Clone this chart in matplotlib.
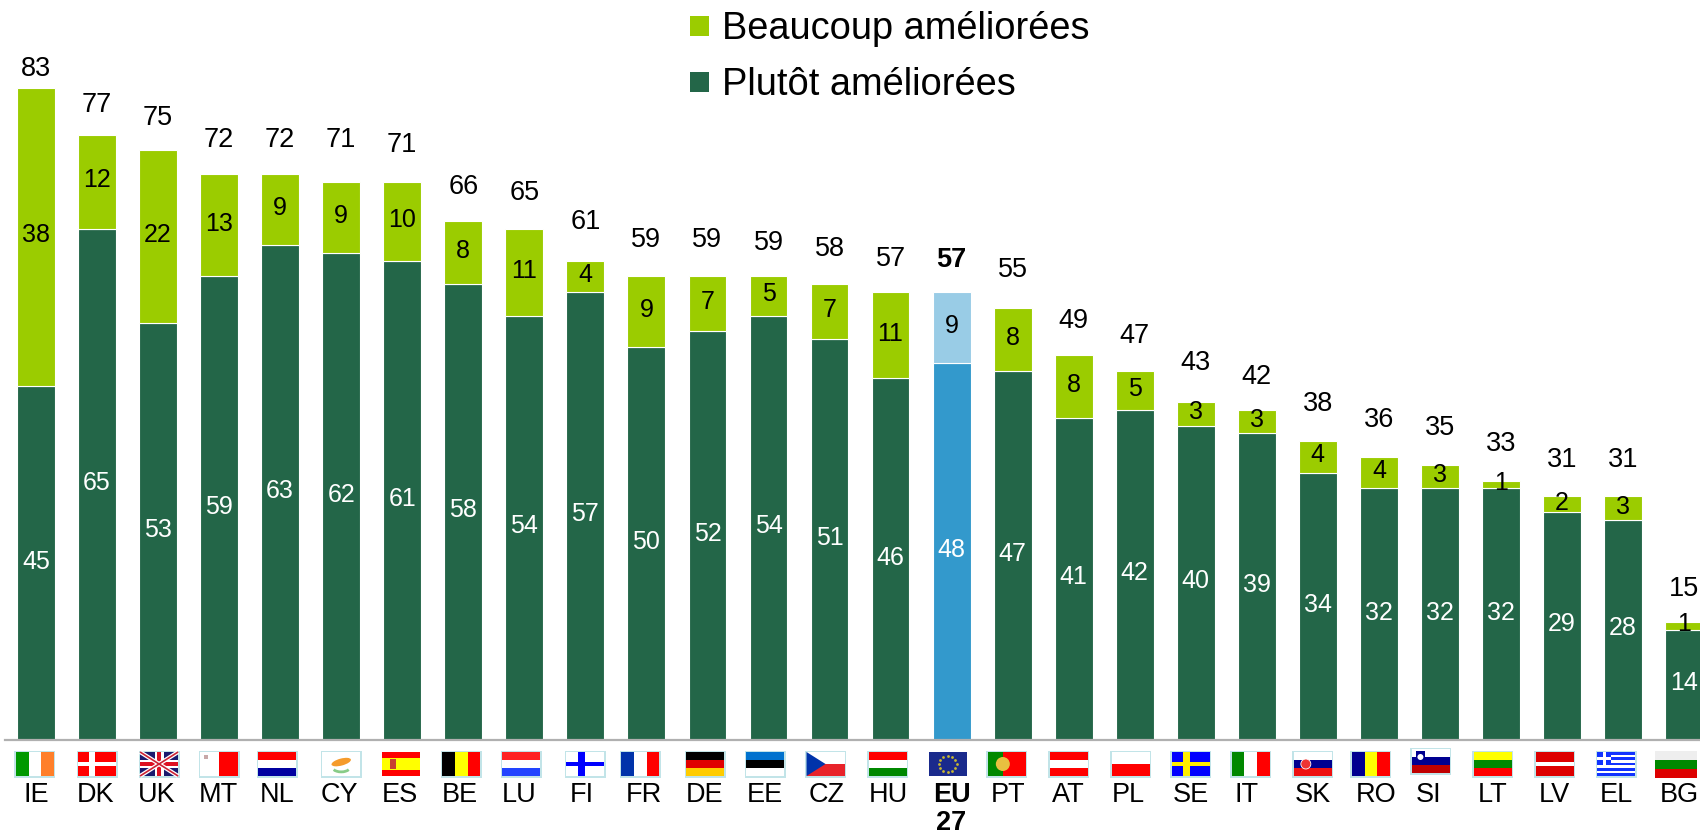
import numpy as np
import matplotlib
matplotlib.use("Agg")
import matplotlib.pyplot as plt
import matplotlib.patches as patches

plt.rcParams['font.family'] = ['Liberation Sans', 'DejaVu Sans']

# Data
countries = ["IE", "DK", "UK", "MT", "NL", "CY", "ES", "BE", "LU", "FI", "FR", "DE", "EE", "CZ",
             "HU", "EU\n27", "PT", "AT", "PL", "SE", "IT", "SK", "RO", "SI", "LT", "LV", "EL", "BG"]
plutot = [45, 65, 53, 59, 63, 62, 61, 58, 54, 57, 50, 52, 54, 51,
          46, 48, 47, 41, 42, 40, 39, 34, 32, 32, 32, 29, 28, 14]
beaucoup = [38, 12, 22, 13, 9, 9, 10, 8, 11, 4, 9, 7, 5, 7,
            11, 9, 8, 8, 5, 3, 3, 4, 4, 3, 1, 2, 3, 1]
totals = [83, 77, 75, 72, 72, 71, 71, 66, 65, 61, 59, 59, 59, 58,
          57, 57, 55, 49, 47, 43, 42, 38, 36, 35, 33, 31, 31, 15]

# Hand placement, in pixels, as in the original slide
total_lift = [19, 30, 32, 34, 34, 42, 37, 34, 36, 39, 36, 36, 33, 35,
              33, 32, 38, 34, 35, 39, 33, 37, 37, 37, 37, 36, 36, 33]
label_shift = [0, -1, -1, -1, -3, -2, -2, -3, -5, -4, -3, -3, -4, -3,
               -2, 0, -5, -5, -6, -5, -10, -5, -3, -11, -8, -8, -7, -5]
flag_shift = [-1, 0, 1, 0, -3, 0, -1, -2, -3, 0, -6, -2, -3, -4,
              -3, -4, -6, -5, -4, -5, -6, -5, -8, -9, -8, -7, -7, -10]

DARK = "#236648"
LIGHT = "#9BCC00"
EU_DARK = "#3399CC"
EU_LIGHT = "#99CCE6"
PX_PER_UNIT = 7.86
BAR_X0 = 36
BAR_STEP = 61.04
BASE_Y = 740

fig = plt.figure(figsize=(17, 8.35), dpi=100)
ax = fig.add_axes([0, (835 - BASE_Y) / 835, 1, BASE_Y / 835])
ax.set_xlim(-BAR_X0 / BAR_STEP, (1700 - BAR_X0) / BAR_STEP)
ax.set_ylim(0, BASE_Y / PX_PER_UNIT)

x = np.arange(len(countries))
dark_colors = [EU_DARK if c.startswith("EU") else DARK for c in countries]
light_colors = [EU_LIGHT if c.startswith("EU") else LIGHT for c in countries]
ax.bar(x, plutot, width=0.62, color=dark_colors, edgecolor="white", linewidth=0.8)
ax.bar(x, beaucoup, width=0.62, bottom=plutot, color=light_colors, edgecolor="white", linewidth=0.8)

for i in x:
    is_eu = countries[i].startswith("EU")
    ax.text(i, plutot[i] / 2 + 0.2, str(plutot[i]), ha="center", va="center", fontsize=18, color="white")
    ax.text(i, plutot[i] + beaucoup[i] / 2 + 0.2, str(beaucoup[i]), ha="center", va="center", fontsize=18,
            color="black")
    ax.text(i, totals[i] + total_lift[i] / PX_PER_UNIT, str(totals[i]), ha="center", va="center", fontsize=19.5,
            color="black", fontweight="bold" if is_eu else "normal")

ax.set_xticks([])
ax.set_yticks([])
for side in ["top", "left", "right"]:
    ax.spines[side].set_visible(False)
ax.spines["bottom"].set_color("#b0b0b0")
ax.spines["bottom"].set_linewidth(1.6)
ax.spines["bottom"].set_bounds(-31 / BAR_STEP, (1700 - BAR_X0) / BAR_STEP)

# Overlay in pixel coordinates for legend, flags and country codes
ov = fig.add_axes([0, 0, 1, 1])
ov.set_xlim(0, 1700)
ov.set_ylim(835, 0)
ov.axis("off")
ov.patch.set_alpha(0)

for y0, col, name in [(16, LIGHT, "Beaucoup améliorées"), (72, DARK, "Plutôt améliorées")]:
    ov.add_patch(patches.Rectangle((690, y0), 19, 20, facecolor=col, edgecolor="none"))
    ov.text(722, y0 + 13, name, fontsize=27.4, ha="left", va="center", color="black")


def rect(x0, y0, w, h, col):
    ov.add_patch(patches.Rectangle((x0, y0), w, h, facecolor=col, edgecolor="none", zorder=3))


def vstripes(l, t, w, h, cols):
    for k, c in enumerate(cols):
        rect(l + k * w / len(cols), t, w / len(cols), h, c)


def hstripes(l, t, w, h, cols):
    for k, c in enumerate(cols):
        rect(l, t + k * h / len(cols), w, h / len(cols), c)


def cross(l, t, w, h, bg, fg, thick=0.22):
    rect(l, t, w, h, bg)
    rect(l + w * 0.3, t, w * thick, h, fg)
    rect(l, t + h * (0.5 - thick / 2), w, h * thick, fg)


def draw_flag(code, cx):
    w, h = 38, 24
    l = cx - w / 2
    t = 752 if code != "SI" else 749
    if code not in ("ES", "EU", "BG"):
        ov.add_patch(patches.Rectangle((l - 1.5, t - 1.5), w + 3, h + 3, facecolor="#c2e4e8", edgecolor="none", zorder=2))
    if code == "IE":
        vstripes(l, t, w, h, ["#009900", "white", "#FF7F2A"])
    elif code == "DK":
        cross(l, t, w, h, "#FF0000", "white", 0.14)
    elif code == "UK":
        rect(l, t, w, h, "#1a1a6e")
        ov.plot([l, l + w], [t, t + h], color="white", lw=3, zorder=4, solid_capstyle="butt")
        ov.plot([l, l + w], [t + h, t], color="white", lw=3, zorder=4, solid_capstyle="butt")
        ov.plot([l, l + w], [t, t + h], color="#CC2233", lw=1.2, zorder=4, solid_capstyle="butt")
        ov.plot([l, l + w], [t + h, t], color="#CC2233", lw=1.2, zorder=4, solid_capstyle="butt")
        rect(l + w * 0.38, t, w * 0.24, h, "white")
        rect(l, t + h * 0.33, w, h * 0.34, "white")
        rect(l + w * 0.44, t, w * 0.12, h, "#DD1122")
        rect(l, t + h * 0.41, w, h * 0.18, "#DD1122")
    elif code == "MT":
        vstripes(l, t, w, h, ["white", "#FF0000"])
        rect(l + 4, t + 3, 4, 4, "#c8a8a8")
    elif code == "NL":
        hstripes(l, t, w, h, ["#FF0000", "white", "#0000A0"])
    elif code == "CY":
        rect(l, t, w, h, "white")
        ov.add_patch(patches.Ellipse((cx, t + h * 0.42), 20, 7, angle=-15, facecolor="#F59B2B", edgecolor="none", zorder=4))
        ov.add_patch(patches.Arc((cx, t + h * 0.62), 18, 10, theta1=20, theta2=160, edgecolor="#88CC88", lw=2, zorder=4))
    elif code == "ES":
        rect(l, t, w, h, "#FF0000")
        rect(l, t + h * 0.25, w, h * 0.5, "#FFFF00")
        rect(l + 8, t + 7, 6, 10, "#C84030")
    elif code == "BE":
        vstripes(l, t, w, h, ["black", "#FFFF00", "#FF0000"])
    elif code == "LU":
        hstripes(l, t, w, h, ["#FF2222", "white", "#2244FF"])
    elif code == "FI":
        cross(l, t, w, h, "white", "#0000FF", 0.2)
    elif code == "FR":
        vstripes(l, t, w, h, ["#0033AA", "white", "#FF0000"])
    elif code == "DE":
        hstripes(l, t, w, h, ["black", "#E00000", "#FFCC00"])
    elif code == "EE":
        hstripes(l, t, w, h, ["#0072CE", "black", "white"])
    elif code == "CZ":
        hstripes(l, t, w, h, ["white", "#E8232A"])
        ov.add_patch(patches.Polygon([(l, t), (l + w * 0.5, t + h / 2), (l, t + h)], facecolor="#0033AA", edgecolor="none", zorder=4))
    elif code == "HU":
        hstripes(l, t, w, h, ["#FF0000", "white", "#008800"])
    elif code == "EU":
        rect(l, t, w, h, "#1a2a8c")
        ang = np.linspace(0, 2 * np.pi, 12, endpoint=False)
        ov.scatter(cx + 9 * np.cos(ang), t + h / 2 + 8 * np.sin(ang), s=4, color="#C8B830", linewidths=0, zorder=4)
    elif code == "PT":
        rect(l, t, w * 0.4, h, "#008800")
        rect(l + w * 0.4, t, w * 0.6, h, "#FF0000")
        ov.add_patch(patches.Circle((l + w * 0.4, t + h / 2), 7, facecolor="#E8C040", edgecolor="none", zorder=4))
        rect(l + w * 0.4 - 2.5, t + h / 2 - 4, 5, 8, "#dddddd")
    elif code == "AT":
        hstripes(l, t, w, h, ["#FF0000", "white", "#FF0000"])
    elif code == "PL":
        hstripes(l, t, w, h, ["white", "#FF0000"])
    elif code == "SE":
        rect(l, t, w, h, "#0000FF")
        rect(l + w * 0.3, t, w * 0.18, h, "#FFEE00")
        rect(l, t + h * 0.4, w, h * 0.2, "#FFEE00")
    elif code == "IT":
        vstripes(l, t, w, h, ["#008800", "white", "#FF0000"])
    elif code == "SK":
        hstripes(l, t, w, h, ["white", "#000090", "#EE1111"])
        ov.add_patch(patches.Circle((l + 12, t + h / 2), 5, facecolor="#EE3333", edgecolor="white", lw=0.6, zorder=4))
    elif code == "RO":
        vstripes(l, t, w, h, ["#000090", "#FFFF00", "#FF0000"])
    elif code == "SI":
        hstripes(l, t, w, h, ["white", "#000090", "#C00000"])
        rect(l + 4, t + 2, 9, 10, "#000090")
        ov.add_patch(patches.Circle((l + 8.5, t + 8), 3, facecolor="white", edgecolor="none", zorder=4))
    elif code == "LT":
        hstripes(l, t, w, h, ["#FFFF00", "#008800", "#FF0000"])
    elif code == "LV":
        hstripes(l, t, w, h, ["#DD0000", "#DD0000", "white", "#DD0000", "#DD0000"])
    elif code == "EL":
        hstripes(l, t, w, h, ["#1133FF", "white"] * 4 + ["#1133FF"])
        rect(l, t, w * 0.38, h * 5 / 9, "#1133FF")
        rect(l + w * 0.15, t, w * 0.08, h * 5 / 9, "white")
        rect(l, t + h * 2 / 9, w * 0.38, h / 9, "white")
    elif code == "BG":
        hstripes(l, t - 1, w + 4, h + 3, ["#EEEEEE", "#008800", "#DD0000"])


for i, c in enumerate(countries):
    code = c.split("\n")[0]
    cx = BAR_X0 + BAR_STEP * i
    draw_flag(code, cx + flag_shift[i])
    if code == "EU":
        # two lines set apart as in the original
        ov.text(cx + label_shift[i], 795, "EU", ha="center", va="center", fontsize=19.5, fontweight="bold", color="black")
        ov.text(cx + label_shift[i], 823.5, "27", ha="center", va="center", fontsize=19.5, fontweight="bold", color="black")
    else:
        ov.text(cx + label_shift[i], 795, c, ha="center", va="center", fontsize=19.5, color="black")

plt.savefig("out.png", dpi=100)
